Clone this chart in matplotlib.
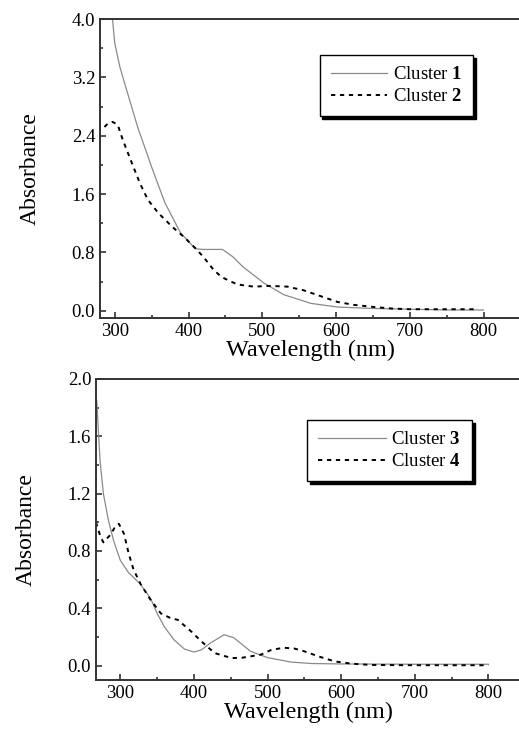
import numpy as np
import matplotlib
matplotlib.use('Agg')
import matplotlib.pyplot as plt
from matplotlib.ticker import MultipleLocator

plt.rc('font', family='Liberation Serif')
plt.rc('mathtext', fontset='custom', rm='Liberation Serif', bf='Liberation Serif:bold')

# top panel: clusters 1 and 2
wl1 = [295, 297, 300, 307, 316, 331, 350, 368, 389, 409, 420, 446, 460, 474,
       502, 529, 566, 602, 650, 700, 750, 800]
a1 = [4.3, 3.99, 3.67, 3.34, 3.03, 2.52, 1.97, 1.48, 1.07, 0.85, 0.84, 0.84, 0.74, 0.60,
      0.38, 0.22, 0.10, 0.05, 0.03, 0.02, 0.01, 0.01]

wl2 = [286, 291, 297, 304, 311, 323, 334, 345, 359, 378, 395, 409, 420, 434, 445,
       466, 488, 511, 534, 556, 579, 602, 624, 652, 675, 700, 750, 790]
a2 = [2.52, 2.57, 2.59, 2.55, 2.34, 2.03, 1.75, 1.52, 1.34, 1.15, 1.0, 0.86, 0.74, 0.56, 0.46,
      0.36, 0.33, 0.34, 0.33, 0.28, 0.20, 0.12, 0.08, 0.05, 0.03, 0.02, 0.02, 0.02]

# bottom panel: clusters 3 and 4
wl3 = [268, 270, 272.5, 277, 284, 291, 300, 311, 327, 341, 350, 360, 373, 387, 400,
       410, 423, 441, 454, 477, 500, 532, 560, 600, 700, 800]
a3 = [1.85, 1.66, 1.43, 1.20, 1.01, 0.87, 0.735, 0.65, 0.57, 0.47, 0.365, 0.27, 0.18, 0.116, 0.095,
      0.11, 0.16, 0.216, 0.195, 0.10, 0.056, 0.025, 0.015, 0.012, 0.01, 0.01]

wl4 = [267, 270, 273, 277, 286, 292, 298, 305, 311.5, 318, 327.5, 341, 355, 369, 378,
       396, 410, 428, 451, 465, 477, 491, 505, 522, 536, 550, 569, 591, 614, 640, 700, 800]
a4 = [1.0, 0.95, 0.90, 0.86, 0.91, 0.96, 0.99, 0.92, 0.78, 0.67, 0.57, 0.46, 0.365, 0.33, 0.32,
      0.24, 0.17, 0.088, 0.053, 0.055, 0.065, 0.077, 0.11, 0.125, 0.12, 0.10, 0.065, 0.03, 0.014,
      0.005, 0.003, 0.003]

fig = plt.figure(figsize=(5.19, 7.33), dpi=100)
ax1 = fig.add_axes([0.1927, 0.5662, 0.81, 0.4078])
ax2 = fig.add_axes([0.185, 0.0723, 0.82, 0.4107])

def style(ax, xlim, ylim, ymaj, ymin):
	ax.set_xlim(*xlim)
	ax.set_ylim(*ylim)
	ax.xaxis.set_major_locator(MultipleLocator(100))
	ax.xaxis.set_minor_locator(MultipleLocator(50))
	ax.yaxis.set_major_locator(MultipleLocator(ymaj))
	ax.yaxis.set_minor_locator(MultipleLocator(ymin))
	ax.yaxis.set_major_formatter(matplotlib.ticker.FormatStrFormatter('%.1f'))
	ax.tick_params(which='both', direction='in', top=False, right=False,
				   labelsize=13.5, color='#222222', width=1.1)
	ax.tick_params(which='major', length=4)
	ax.tick_params(which='minor', length=2.5)
	ax.spines['right'].set_visible(False)
	for s in ['left', 'bottom', 'top']:
		ax.spines[s].set_linewidth(1.4)
		ax.spines[s].set_color('#333333')
	ax.set_xlabel('Wavelength (nm)', fontsize=17.5, labelpad=0)
	ax.set_ylabel('Absorbance', fontsize=17, labelpad=22)

def legend(ax, anchor, hl):
	leg = ax.legend(loc='upper right', bbox_to_anchor=anchor, borderaxespad=0,
					fontsize=13.5, handlelength=hl, handletextpad=0.3, labelspacing=0.25,
					borderpad=0.6, fancybox=False, edgecolor='black', framealpha=1,
					shadow={'color': 'black', 'alpha': 1})
	leg.get_frame().set_linewidth(1.0)

ax1.plot(wl1, a1, color='#8a8a8a', lw=0.9, label=r'Cluster $\mathbf{1}$')
ax1.plot(wl2, a2, color='black', lw=1.4, ls=(0, (2.2, 2.4)), label=r'Cluster $\mathbf{2}$')
style(ax1, (280, 850), (-0.1, 4.0), 0.8, 0.4)
legend(ax1, (0.888, 0.88), 3.0)

ax2.plot(wl3, a3, color='#8a8a8a', lw=0.9, label=r'Cluster $\mathbf{3}$')
ax2.plot(wl4, a4, color='black', lw=1.4, ls=(0, (2.2, 2.4)), label=r'Cluster $\mathbf{4}$')
style(ax2, (267, 845), (-0.1, 2.0), 0.4, 0.2)
legend(ax2, (0.884, 0.864), 3.6)

plt.savefig('out.png', dpi=100)
